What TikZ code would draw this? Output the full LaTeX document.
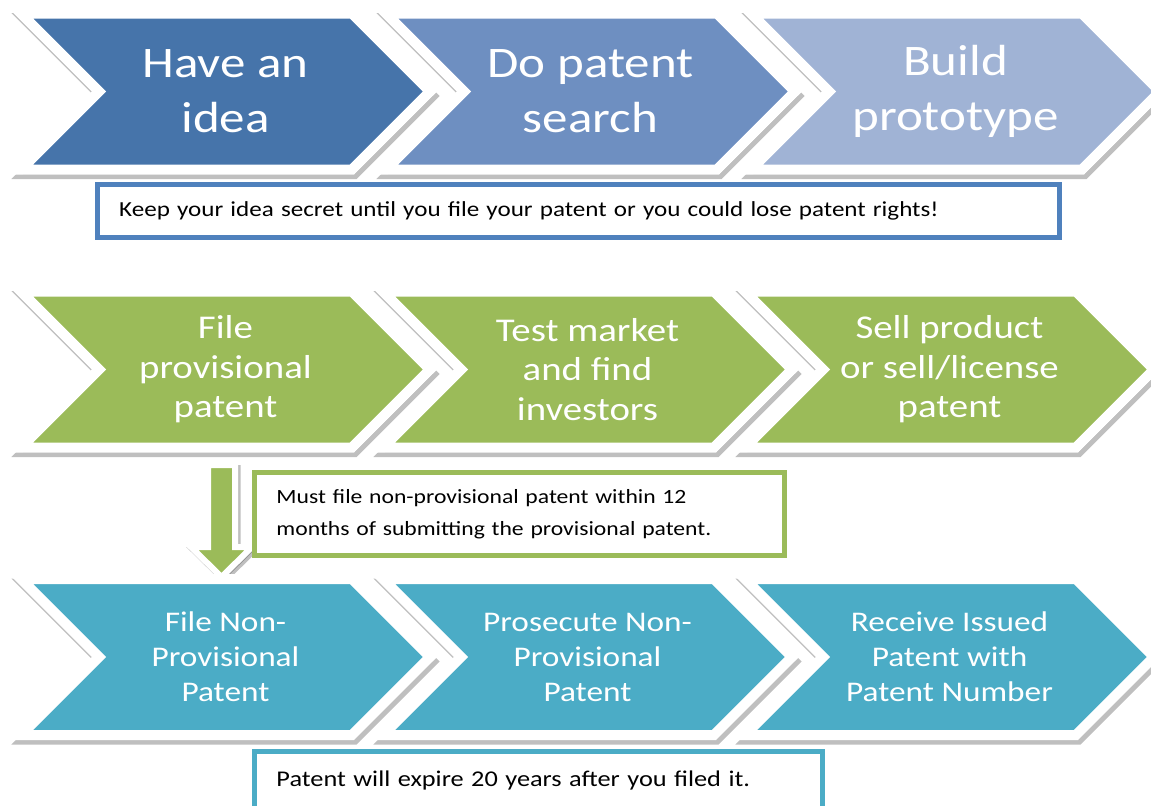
\documentclass[tikz,border=0pt]{standalone}
\usepackage{fontspec}
\setmainfont{Carlito}[FakeStretch=1.17]
\usepackage{tikz}
\usetikzlibrary{shapes.symbols,shadows}
\definecolor{blueA}{RGB}{70,116,170}
\definecolor{blueB}{RGB}{110,143,193}
\definecolor{blueC}{RGB}{160,179,213}
\definecolor{greenA}{RGB}{155,187,89}
\definecolor{tealA}{RGB}{75,172,198}
\definecolor{lineblue}{RGB}{79,129,189}

\begin{document}
\begin{tikzpicture}[scale=0.2]
    \tikzstyle{every node}+=[inner sep=0pt]
    \tikzstyle{chevron}=[signal, signal to=east, signal from=west, signal pointer angle=90,
      minimum width=8.18cm, minimum height=3.12cm, draw=white, line width=0.2cm,
      text=white, align=center,
      drop shadow={shadow xshift=0.05cm, shadow yshift=-0.09cm, opacity=0.25,
        fill=black, draw=black, line width=0.2cm}]
    \tikzstyle{bigtext}=[font=\fontsize{24.8}{31.3}\selectfont]
    \tikzstyle{midtext}=[font=\fontsize{18.9}{22.5}\selectfont]
    \tikzstyle{smalltext}=[font=\fontsize{16.2}{19.9}\selectfont]
    \tikzstyle{notebox}=[rectangle, fill=white, line width=0.1cm, align=left,
      inner xsep=0.44cm, font=\fontsize{12.2}{16.5}\selectfont]
    \clip (0,0) rectangle (115.1,-80.6);
    % first row
    \node [chevron, bigtext, fill=blueA] (idea) at (22.55,-9.15) {Have an\\idea};
    \node [chevron, bigtext, fill=blueB] (search) at (59.05,-9.15) {Do patent\\search};
    \node [chevron, bigtext, fill=blueC] (proto) at (95.55,-9.15) {Build\\prototype};
    \node [notebox, draw=lineblue, text width=18.37cm, minimum height=1.07cm] (secret) at (57.85,-21.1)
      {Keep your idea secret until you file your patent or you could lose patent rights!};
    % second row
    \node [chevron, midtext, fill=greenA] (prov) at (22.55,-36.95) {File\\provisional\\patent};
    \node [chevron, midtext, fill=greenA] (market) at (58.75,-36.95) {Test market\\and find\\investors};
    \node [chevron, midtext, fill=greenA] (sell) at (94.95,-36.95) {Sell product\\or sell/license\\patent};
    \draw [white, line width=0.12cm, fill=greenA,
      drop shadow={shadow xshift=0.05cm, shadow yshift=-0.06cm, opacity=0.25, fill=black, draw=black, line width=0.12cm}]
      (20.8,-46.5) -- (23.5,-46.5) -- (23.5,-54.7) -- (25.2,-54.7) -- (22.15,-57.7)
      -- (19.1,-54.7) -- (20.8,-54.7) -- cycle;
    \node [notebox, draw=greenA, text width=9.72cm, minimum height=1.66cm,
      font=\fontsize{11.5}{18}\selectfont] (twelve) at (51.95,-51.4)
      {Must file non-provisional patent within 12\\months of submitting the provisional patent.};
    % third row
    \node [chevron, smalltext, fill=tealA] (nonprov) at (22.55,-65.7) {File Non-\\Provisional\\Patent};
    \node [chevron, smalltext, fill=tealA] (prosec) at (58.75,-65.7) {Prosecute Non-\\Provisional\\Patent};
    \node [chevron, smalltext, fill=tealA] (issued) at (94.95,-65.7) {Receive Issued\\Patent with\\Patent Number};
    \node [notebox, draw=tealA, text width=10.48cm, minimum height=1.16cm,
      font=\fontsize{12.8}{16.5}\selectfont] (expire) at (53.85,-78)
      {Patent will expire 20 years after you filed it.};
\end{tikzpicture}
\end{document}
